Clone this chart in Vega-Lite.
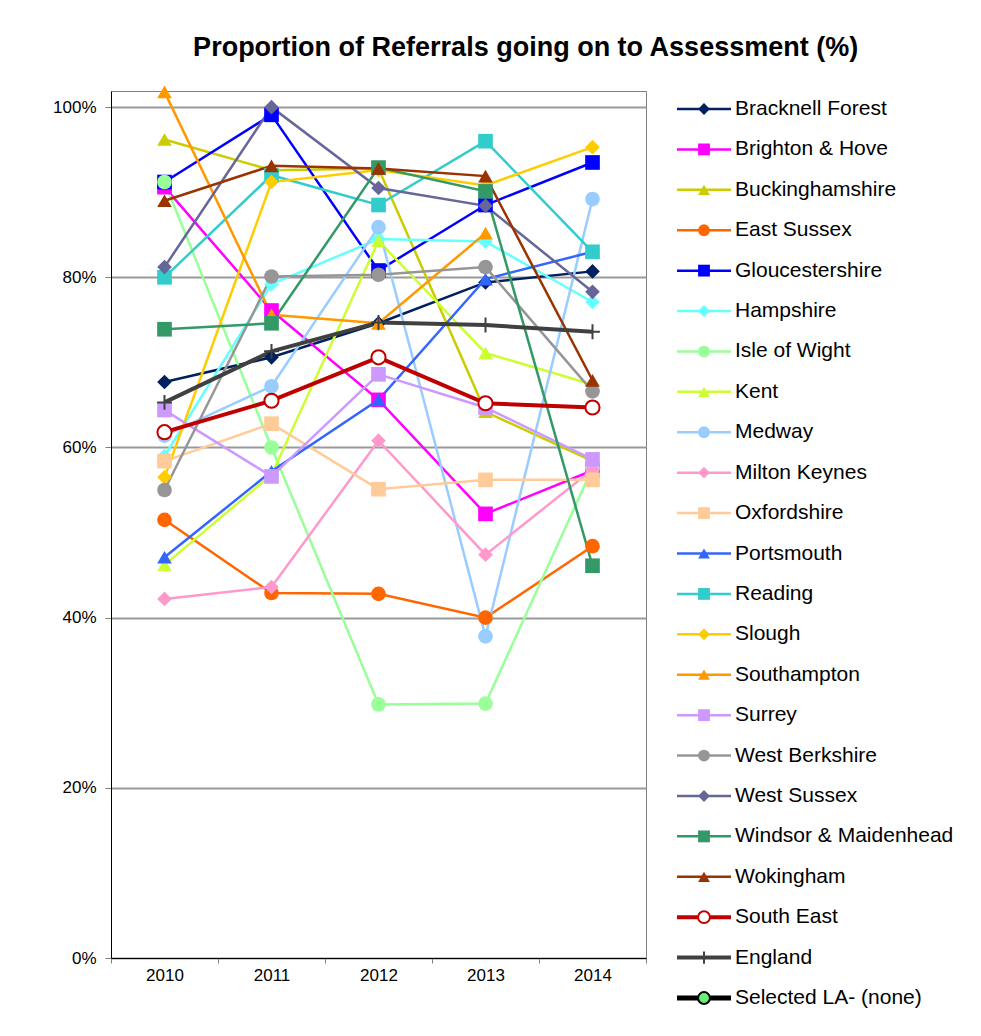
{
  "$schema": "https://vega.github.io/schema/vega-lite/v6.json",
  "padding": {"left": 52, "top": 34, "right": 5, "bottom": 5},
  "title": {"text": "Proportion of Referrals going on to Assessment (%)", "font": "Liberation Sans", "fontSize": 27, "fontWeight": "bold", "anchor": "middle", "offset": 23, "dx": 23, "color": "#000000"},
  "spacing": 27,
  "datasets": {
    "main": [
      {"series": "Bracknell Forest", "year": "2010", "value": 0.677},
      {"series": "Bracknell Forest", "year": "2011", "value": 0.706},
      {"series": "Bracknell Forest", "year": "2012", "value": 0.746},
      {"series": "Bracknell Forest", "year": "2013", "value": 0.794},
      {"series": "Bracknell Forest", "year": "2014", "value": 0.807},
      {"series": "Brighton & Hove", "year": "2010", "value": 0.906},
      {"series": "Brighton & Hove", "year": "2011", "value": 0.761},
      {"series": "Brighton & Hove", "year": "2012", "value": 0.656},
      {"series": "Brighton & Hove", "year": "2013", "value": 0.522},
      {"series": "Brighton & Hove", "year": "2014", "value": 0.573},
      {"series": "Buckinghamshire", "year": "2010", "value": 0.962},
      {"series": "Buckinghamshire", "year": "2011", "value": 0.926},
      {"series": "Buckinghamshire", "year": "2012", "value": 0.928},
      {"series": "Buckinghamshire", "year": "2013", "value": 0.642},
      {"series": "Buckinghamshire", "year": "2014", "value": 0.584},
      {"series": "East Sussex", "year": "2010", "value": 0.515},
      {"series": "East Sussex", "year": "2011", "value": 0.429},
      {"series": "East Sussex", "year": "2012", "value": 0.428},
      {"series": "East Sussex", "year": "2013", "value": 0.400},
      {"series": "East Sussex", "year": "2014", "value": 0.484},
      {"series": "Gloucestershire", "year": "2010", "value": 0.912},
      {"series": "Gloucestershire", "year": "2011", "value": 0.991},
      {"series": "Gloucestershire", "year": "2012", "value": 0.808},
      {"series": "Gloucestershire", "year": "2013", "value": 0.885},
      {"series": "Gloucestershire", "year": "2014", "value": 0.935},
      {"series": "Hampshire", "year": "2010", "value": 0.590},
      {"series": "Hampshire", "year": "2011", "value": 0.792},
      {"series": "Hampshire", "year": "2012", "value": 0.845},
      {"series": "Hampshire", "year": "2013", "value": 0.842},
      {"series": "Hampshire", "year": "2014", "value": 0.771},
      {"series": "Isle of Wight", "year": "2010", "value": 0.912},
      {"series": "Isle of Wight", "year": "2011", "value": 0.600},
      {"series": "Isle of Wight", "year": "2012", "value": 0.298},
      {"series": "Isle of Wight", "year": "2013", "value": 0.299},
      {"series": "Isle of Wight", "year": "2014", "value": 0.576},
      {"series": "Kent", "year": "2010", "value": 0.462},
      {"series": "Kent", "year": "2011", "value": 0.568},
      {"series": "Kent", "year": "2012", "value": 0.843},
      {"series": "Kent", "year": "2013", "value": 0.711},
      {"series": "Kent", "year": "2014", "value": 0.674},
      {"series": "Medway", "year": "2010", "value": 0.614},
      {"series": "Medway", "year": "2011", "value": 0.672},
      {"series": "Medway", "year": "2012", "value": 0.859},
      {"series": "Medway", "year": "2013", "value": 0.378},
      {"series": "Medway", "year": "2014", "value": 0.892},
      {"series": "Milton Keynes", "year": "2010", "value": 0.422},
      {"series": "Milton Keynes", "year": "2011", "value": 0.436},
      {"series": "Milton Keynes", "year": "2012", "value": 0.608},
      {"series": "Milton Keynes", "year": "2013", "value": 0.474},
      {"series": "Milton Keynes", "year": "2014", "value": 0.574},
      {"series": "Oxfordshire", "year": "2010", "value": 0.584},
      {"series": "Oxfordshire", "year": "2011", "value": 0.628},
      {"series": "Oxfordshire", "year": "2012", "value": 0.551},
      {"series": "Oxfordshire", "year": "2013", "value": 0.562},
      {"series": "Oxfordshire", "year": "2014", "value": 0.562},
      {"series": "Portsmouth", "year": "2010", "value": 0.471},
      {"series": "Portsmouth", "year": "2011", "value": 0.572},
      {"series": "Portsmouth", "year": "2012", "value": 0.656},
      {"series": "Portsmouth", "year": "2013", "value": 0.798},
      {"series": "Portsmouth", "year": "2014", "value": 0.830},
      {"series": "Reading", "year": "2010", "value": 0.800},
      {"series": "Reading", "year": "2011", "value": 0.920},
      {"series": "Reading", "year": "2012", "value": 0.885},
      {"series": "Reading", "year": "2013", "value": 0.960},
      {"series": "Reading", "year": "2014", "value": 0.830},
      {"series": "Slough", "year": "2010", "value": 0.565},
      {"series": "Slough", "year": "2011", "value": 0.912},
      {"series": "Slough", "year": "2012", "value": 0.926},
      {"series": "Slough", "year": "2013", "value": 0.908},
      {"series": "Slough", "year": "2014", "value": 0.953},
      {"series": "Southampton", "year": "2010", "value": 1.018},
      {"series": "Southampton", "year": "2011", "value": 0.756},
      {"series": "Southampton", "year": "2012", "value": 0.746},
      {"series": "Southampton", "year": "2013", "value": 0.852},
      {"series": "Surrey", "year": "2010", "value": 0.644},
      {"series": "Surrey", "year": "2011", "value": 0.566},
      {"series": "Surrey", "year": "2012", "value": 0.686},
      {"series": "Surrey", "year": "2013", "value": 0.647},
      {"series": "Surrey", "year": "2014", "value": 0.586},
      {"series": "West Berkshire", "year": "2010", "value": 0.550},
      {"series": "West Berkshire", "year": "2011", "value": 0.801},
      {"series": "West Berkshire", "year": "2012", "value": 0.803},
      {"series": "West Berkshire", "year": "2013", "value": 0.812},
      {"series": "West Berkshire", "year": "2014", "value": 0.666},
      {"series": "West Sussex", "year": "2010", "value": 0.812},
      {"series": "West Sussex", "year": "2011", "value": 1.000},
      {"series": "West Sussex", "year": "2012", "value": 0.905},
      {"series": "West Sussex", "year": "2013", "value": 0.884},
      {"series": "West Sussex", "year": "2014", "value": 0.783},
      {"series": "Windsor & Maidenhead", "year": "2010", "value": 0.739},
      {"series": "Windsor & Maidenhead", "year": "2011", "value": 0.746},
      {"series": "Windsor & Maidenhead", "year": "2012", "value": 0.929},
      {"series": "Windsor & Maidenhead", "year": "2013", "value": 0.901},
      {"series": "Windsor & Maidenhead", "year": "2014", "value": 0.461},
      {"series": "Wokingham", "year": "2010", "value": 0.890},
      {"series": "Wokingham", "year": "2011", "value": 0.931},
      {"series": "Wokingham", "year": "2012", "value": 0.928},
      {"series": "Wokingham", "year": "2013", "value": 0.919},
      {"series": "Wokingham", "year": "2014", "value": 0.679},
      {"series": "South East", "year": "2010", "value": 0.618},
      {"series": "South East", "year": "2011", "value": 0.655},
      {"series": "South East", "year": "2012", "value": 0.706},
      {"series": "South East", "year": "2013", "value": 0.652},
      {"series": "South East", "year": "2014", "value": 0.647},
      {"series": "England", "year": "2010", "value": 0.653},
      {"series": "England", "year": "2011", "value": 0.713},
      {"series": "England", "year": "2012", "value": 0.747},
      {"series": "England", "year": "2013", "value": 0.744},
      {"series": "England", "year": "2014", "value": 0.736}
    ],
    "legend": [
      {"series": "Bracknell Forest"},
      {"series": "Brighton & Hove"},
      {"series": "Buckinghamshire"},
      {"series": "East Sussex"},
      {"series": "Gloucestershire"},
      {"series": "Hampshire"},
      {"series": "Isle of Wight"},
      {"series": "Kent"},
      {"series": "Medway"},
      {"series": "Milton Keynes"},
      {"series": "Oxfordshire"},
      {"series": "Portsmouth"},
      {"series": "Reading"},
      {"series": "Slough"},
      {"series": "Southampton"},
      {"series": "Surrey"},
      {"series": "West Berkshire"},
      {"series": "West Sussex"},
      {"series": "Windsor & Maidenhead"},
      {"series": "Wokingham"},
      {"series": "South East"},
      {"series": "England"},
      {"series": "Selected LA- (none)"}
    ]
  },
  "hconcat": [
    {
      "width": 535,
      "height": 867,
      "data": {"name": "main"},
      "encoding": {
        "x": {"field": "year", "type": "ordinal", "title": null,
              "scale": {"type": "band", "paddingInner": 0, "paddingOuter": 0},
              "axis": {"tickBand": "extent", "labelAngle": 0, "labelFontSize": 17, "labelPadding": 4, "tickSize": 5, "tickColor": "#808080", "domainColor": "#000000", "grid": false}},
        "y": {"field": "value", "type": "quantitative", "title": null,
              "scale": {"domain": [0, 1.019], "nice": false, "zero": true},
              "axis": {"values": [0, 0.2, 0.4, 0.6, 0.8, 1.0], "format": ".0%", "labelFontSize": 17, "labelPadding": 9, "tickSize": 6, "tickColor": "#808080", "domainColor": "#000000", "grid": true, "gridColor": "#999999", "gridWidth": 2}}
      },
      "layer": [
        {
          "mark": {"type": "line", "clip": false},
          "encoding": {
            "color": {"field": "series", "type": "nominal", "legend": null,
              "scale": {"domain": ["Bracknell Forest","Brighton & Hove","Buckinghamshire","East Sussex","Gloucestershire","Hampshire","Isle of Wight","Kent","Medway","Milton Keynes","Oxfordshire","Portsmouth","Reading","Slough","Southampton","Surrey","West Berkshire","West Sussex","Windsor & Maidenhead","Wokingham","South East","England","Selected LA- (none)"],
                        "range": ["#00205F","#FF00FF","#CCCC00","#FF6600","#0000FF","#66FFFF","#99FF99","#CCFF33","#99CCFF","#FF99CC","#FFCC99","#3366FF","#33CCCC","#FFCC00","#FF9900","#CC99FF","#969696","#666699","#339966","#993300","#C00000","#404040","#000000"]}},
            "strokeWidth": {"field": "series", "type": "nominal", "legend": null,
              "scale": {"type": "ordinal", "domain": ["Bracknell Forest","Brighton & Hove","Buckinghamshire","East Sussex","Gloucestershire","Hampshire","Isle of Wight","Kent","Medway","Milton Keynes","Oxfordshire","Portsmouth","Reading","Slough","Southampton","Surrey","West Berkshire","West Sussex","Windsor & Maidenhead","Wokingham","South East","England","Selected LA- (none)"],
                        "range": [2.5,2.5,2.5,2.5,2.5,2.5,2.5,2.5,2.5,2.5,2.5,2.5,2.5,2.5,2.5,2.5,2.5,2.5,2.5,2.5,4,4,5]}}
          }
        },
        {
          "transform": [{"filter": "datum.series !== 'South East' && datum.series !== 'England'"}],
          "mark": {"type": "point", "filled": true, "size": 215, "opacity": 1},
          "encoding": {
            "color": {"field": "series", "type": "nominal", "legend": null},
            "shape": {"field": "series", "type": "nominal", "legend": null,
              "scale": {"domain": ["Bracknell Forest","Brighton & Hove","Buckinghamshire","East Sussex","Gloucestershire","Hampshire","Isle of Wight","Kent","Medway","Milton Keynes","Oxfordshire","Portsmouth","Reading","Slough","Southampton","Surrey","West Berkshire","West Sussex","Windsor & Maidenhead","Wokingham","Selected LA- (none)"],
                        "range": ["diamond","square","triangle-up","circle","square","diamond","circle","triangle-up","circle","diamond","square","triangle-up","square","diamond","triangle-up","square","circle","diamond","square","triangle-up","circle"]}}
          }
        },
        {
          "transform": [{"filter": "datum.series === 'England'"}],
          "mark": {"type": "point", "filled": false, "shape": "M-1,0H1M0,-1V1", "size": 220, "strokeWidth": 2, "color": "#404040", "opacity": 1}
        },
        {
          "transform": [{"filter": "datum.series === 'South East'"}],
          "mark": {"type": "point", "filled": false, "shape": "circle", "size": 200, "strokeWidth": 2, "stroke": "#C00000", "fill": "#FFFFFF", "fillOpacity": 1, "opacity": 1}
        }
      ]
    },
    {
      "width": 54,
      "height": 925,
      "view": {"stroke": null},
      "data": {"name": "legend"},
      "encoding": {
        "y": {"field": "series", "type": "nominal", "sort": null, "axis": null,
              "scale": {"type": "point", "padding": 0.445}}
      },
      "layer": [
        {
          "mark": {"type": "rule"},
          "encoding": {
            "x": {"datum": 0, "type": "quantitative", "scale": {"domain": [0, 1]}, "axis": null},
            "x2": {"datum": 1},
            "color": {"field": "series", "type": "nominal", "legend": null,
              "scale": {"domain": ["Bracknell Forest","Brighton & Hove","Buckinghamshire","East Sussex","Gloucestershire","Hampshire","Isle of Wight","Kent","Medway","Milton Keynes","Oxfordshire","Portsmouth","Reading","Slough","Southampton","Surrey","West Berkshire","West Sussex","Windsor & Maidenhead","Wokingham","South East","England","Selected LA- (none)"],
                        "range": ["#00205F","#FF00FF","#CCCC00","#FF6600","#0000FF","#66FFFF","#99FF99","#CCFF33","#99CCFF","#FF99CC","#FFCC99","#3366FF","#33CCCC","#FFCC00","#FF9900","#CC99FF","#969696","#666699","#339966","#993300","#C00000","#404040","#000000"]}},
            "strokeWidth": {"field": "series", "type": "nominal", "legend": null,
              "scale": {"type": "ordinal", "domain": ["Bracknell Forest","Brighton & Hove","Buckinghamshire","East Sussex","Gloucestershire","Hampshire","Isle of Wight","Kent","Medway","Milton Keynes","Oxfordshire","Portsmouth","Reading","Slough","Southampton","Surrey","West Berkshire","West Sussex","Windsor & Maidenhead","Wokingham","South East","England","Selected LA- (none)"],
                        "range": [2.5,2.5,2.5,2.5,2.5,2.5,2.5,2.5,2.5,2.5,2.5,2.5,2.5,2.5,2.5,2.5,2.5,2.5,2.5,2.5,3.5,3.5,5]}}
          }
        },
        {
          "transform": [{"filter": "datum.series !== 'South East' && datum.series !== 'England' && datum.series !== 'Selected LA- (none)'"}],
          "mark": {"type": "point", "filled": true, "size": 140, "opacity": 1},
          "encoding": {
            "x": {"datum": 0.5, "type": "quantitative"},
            "color": {"field": "series", "type": "nominal", "legend": null},
            "shape": {"field": "series", "type": "nominal", "legend": null,
              "scale": {"domain": ["Bracknell Forest","Brighton & Hove","Buckinghamshire","East Sussex","Gloucestershire","Hampshire","Isle of Wight","Kent","Medway","Milton Keynes","Oxfordshire","Portsmouth","Reading","Slough","Southampton","Surrey","West Berkshire","West Sussex","Windsor & Maidenhead","Wokingham","Selected LA- (none)"],
                        "range": ["diamond","square","triangle-up","circle","square","diamond","circle","triangle-up","circle","diamond","square","triangle-up","square","diamond","triangle-up","square","circle","diamond","square","triangle-up","circle"]}}
          }
        },
        {
          "transform": [{"filter": "datum.series === 'England'"}],
          "mark": {"type": "point", "filled": false, "shape": "M-1,0H1M0,-1V1", "size": 150, "strokeWidth": 2, "color": "#404040", "opacity": 1},
          "encoding": {"x": {"datum": 0.5, "type": "quantitative"}}
        },
        {
          "transform": [{"filter": "datum.series === 'South East'"}],
          "mark": {"type": "point", "filled": false, "shape": "circle", "size": 140, "strokeWidth": 2, "stroke": "#C00000", "fill": "#FFFFFF", "fillOpacity": 1, "opacity": 1},
          "encoding": {"x": {"datum": 0.5, "type": "quantitative"}}
        },
        {
          "transform": [{"filter": "datum.series === 'Selected LA- (none)'"}],
          "mark": {"type": "point", "filled": false, "shape": "circle", "size": 140, "strokeWidth": 2, "stroke": "#000000", "fill": "#66EE77", "fillOpacity": 1, "opacity": 1},
          "encoding": {"x": {"datum": 0.5, "type": "quantitative"}}
        },
        {
          "mark": {"type": "text", "align": "left", "baseline": "middle", "dx": 4, "font": "Liberation Sans", "fontSize": 21, "color": "#000000"},
          "encoding": {
            "x": {"datum": 1, "type": "quantitative"},
            "text": {"field": "series", "type": "nominal"}
          }
        }
      ]
    }
  ],
  "config": {
    "font": "Liberation Sans",
    "view": {"stroke": "#808080", "strokeWidth": 1},
    "axis": {"labelFont": "Liberation Sans", "labelColor": "#000000", "domainWidth": 1}
  }
}
